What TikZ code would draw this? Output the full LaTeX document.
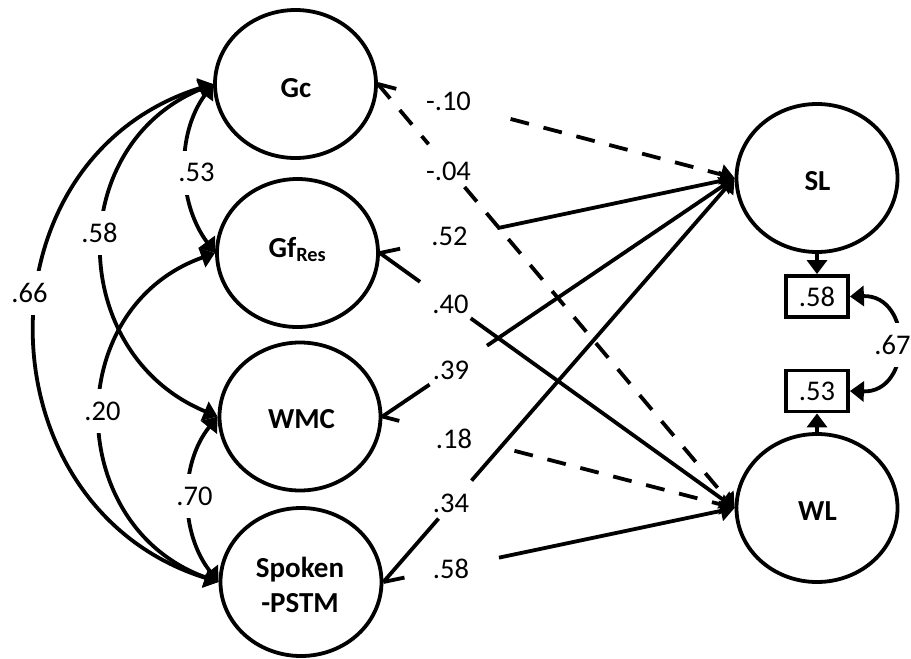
\documentclass[tikz,border=0pt]{standalone}
\usepackage{fontspec}
\setmainfont{Carlito}
\usetikzlibrary{arrows.meta,shapes.geometric,calc}
\begin{document}
\begin{tikzpicture}[x=1pt,y=-1pt,
  >={Triangle[length=14pt,width=20pt]},
  latent/.style={draw, ellipse, line width=3.8pt, minimum width=161pt, minimum height=148pt, inner sep=0pt, outer sep=1.9pt},
  resbox/.style={draw, rectangle, line width=3.8pt, minimum width=62pt, minimum height=41pt, inner sep=0pt, outer sep=1.9pt, font=\fontsize{28.5}{32}\selectfont},
  lvname/.style={font=\bfseries\fontsize{29}{35}\selectfont, anchor=base, align=center, inner sep=0pt},
  coef/.style={font=\fontsize{28.5}{32}\selectfont, inner sep=0pt},
  covlbl/.style={coef, fill=white, inner xsep=3pt, minimum height=44pt},
  ln/.style={line width=3.8pt},
  dsh/.style={ln, dash pattern=on 19pt off 15pt},
  ]
\useasboundingbox (0,0) rectangle (911,659);
% latent variables
\node[latent] (gc)  at (295.5,84)  {};
\node[latent] (gf)  at (297.5,253) {};
\node[latent] (wmc) at (300,416.5) {};
\node[latent] (sp)  at (301,582)   {};
\node[latent] (sl)  at (817,178)   {};
\node[latent] (wl)  at (817,508)   {};
% names
\node[lvname] (gct)  at (296,97)    {Gc};
\node[lvname] (gft)  at (297.5,257) {Gf\textsubscript{Res}};
\node[lvname] (wmct) at (301.5,428) {WMC};
\node[lvname] (spt)  at (300,612)   {Spoken\\-PSTM};
\node[lvname] (slt)  at (817.5,190) {SL};
\node[lvname] (wlt)  at (817.5,520) {WL};
% R-square boxes
\node[resbox] (b58) at (817,296.5) {.58};
\node[resbox] (b53) at (817,391)   {.53};
\draw[ln,->] (sl.south) -- (b58.north);
\draw[ln,->] (wl.north) -- (b53.south);
\draw[ln,<->] (b58.east) .. controls +(63,-2) and +(63,2) .. (b53.east);
\node[covlbl] (c67) at (892.5,345) {.67};
% covariances among predictors
\draw[ln,<->] (gc.west)  .. controls +(-37.4,50.1)  and +(-37.4,-50.1)  .. (gf.west);
\draw[ln,<->] (wmc.west) .. controls +(-38.6,48.2)  and +(-38.6,-48.2)  .. (sp.west);
\draw[ln,<->] (gc.west)  .. controls +(-150,62)     and +(-150,-62)     .. (wmc.west);
\draw[ln,<->] (gf.west)  .. controls +(-154.6,55)   and +(-154.6,-55)   .. (sp.west);
\draw[ln,<->] (gc.west)  .. controls +(-240,74.5)   and +(-240,-74.5)   .. (sp.west);
\node[covlbl] (c53) at (196.5,172.5) {.53};
\node[covlbl] (c70) at (194.5,496)   {.70};
\node[covlbl] (c58) at (99.5,233)    {.58};
\node[covlbl] (c20) at (102.5,411)   {.20};
\node[covlbl] (c66) at (29.5,293)    {.66};
% regression paths (interrupted where the coefficient sits)
\draw[dsh] (gc.east) -- ($(gc.east)!0.054!(sl.west)$);
\draw[dsh,->] ($(gc.east)!0.372!(sl.west)$) -- (sl.west);
\draw[dsh] (gc.east) -- ($(gc.east)!0.142!(wl.west)$);
\draw[dsh,->] ($(gc.east)!0.243!(wl.west)$) -- (wl.west);
\draw[ln] (gf.east) -- ($(gf.east)!0.057!(sl.west)$);
\draw[ln,->] ($(gf.east)!0.331!(sl.west)$) -- (sl.west);
\draw[ln] (gf.east) -- ($(gf.east)!0.113!(wl.west)$);
\draw[ln,->] ($(gf.east)!0.256!(wl.west)$) -- (wl.west);
\draw[ln] (wmc.east) -- ($(wmc.east)!0.134!(sl.west)$);
\draw[ln,->] ($(wmc.east)!0.297!(sl.west)$) -- (sl.west);
\draw[dsh] (wmc.east) -- ($(wmc.east)!0.048!(wl.west)$);
\draw[dsh,->] ($(wmc.east)!0.375!(wl.west)$) -- (wl.west);
\draw[ln] (sp.east) -- ($(sp.east)!0.157!(sl.west)$);
\draw[ln,->] ($(sp.east)!0.251!(sl.west)$) -- (sl.west);
\draw[ln] (sp.east) -- ($(sp.east)!0.060!(wl.west)$);
\draw[ln,->] ($(sp.east)!0.329!(wl.west)$) -- (wl.west);
% coefficients
\node[coef] (p1) at (448.5,101.5) {-.10};
\node[coef] (p2) at (448.5,171.5) {-.04};
\node[coef] (p3) at (449.5,236)   {.52};
\node[coef] (p4) at (450.5,304)   {.40};
\node[coef] (p5) at (451,370)     {.39};
\node[coef] (p6) at (454,439)     {.18};
\node[coef] (p7) at (451,503)     {.34};
\node[coef] (p8) at (451,569)     {.58};
\end{tikzpicture}
\end{document}
